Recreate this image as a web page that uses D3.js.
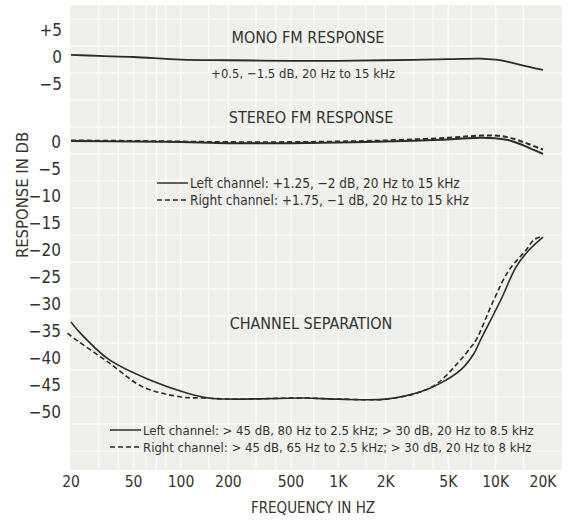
<!DOCTYPE html>
<html>
<head>
<meta charset="utf-8">
<script src="https://cdn.jsdelivr.net/npm/d3@7"></script>
<style>
  body { margin: 0; background: #fff; }
  svg text { font-family: "Liberation Sans Narrow", "DejaVu Sans Condensed", "Roboto Condensed", sans-serif; fill: #33342c; }
</style>
</head>
<body>
<script>
// ticks
const freqTicks = [20, 50, 100, 200, 500, 1000, 2000, 5000, 10000, 20000];
const freqLabels = ["20", "50", "100", "200", "500", "1K", "2K", "5K", "10K", "20K"];
const monoTicks = [5, 0, -5];
const monoLabels = ["+5", "0", "\u22125"];
const stereoTicks = [0, -5, -10, -15, -20, -25, -30, -35, -40, -45, -50];

// mono FM response
const monoFreq = [20, 30, 50, 100, 200, 500, 1000, 2000, 5000, 8000, 10000, 12000, 15000, 20000];
const monoDb   = [0.4, 0.2, 0, -0.5, -0.6, -0.7, -0.7, -0.6, -0.4, -0.3, -0.5, -0.9, -1.6, -2.4];

// stereo FM response
const stereoFreq = [20, 50, 100, 200, 500, 1000, 2000, 5000, 8000, 10000, 12000, 15000, 20000];
const stereoLeft  = [0, -0.1, -0.2, -0.4, -0.4, -0.3, -0.1, 0.3, 0.6, 0.5, 0.2, -0.8, -2.4];
const stereoRight = [0.1, 0, -0.1, -0.2, -0.2, -0.1, 0.1, 0.6, 1.0, 1.0, 0.7, -0.2, -1.6];

// channel separation
const sepLeftFreq = [20, 22, 35, 64, 110, 150, 215, 600, 1000, 2000, 3300, 4500, 6000, 7300, 8000, 10800, 13500, 16300, 20000];
const sepLeftDb   = [-33.5, -35, -40.5, -44.3, -46.7, -47.6, -47.8, -47.6, -47.8, -47.8, -46.5, -44.8, -42.4, -39.3, -36.9, -29.4, -23.3, -20.2, -17.8];
const sepRightFreq = [19, 22, 35, 57, 100, 140, 215, 600, 1000, 2000, 3300, 4300, 5750, 7000, 7500, 9750, 12100, 15600, 17500, 20000];
const sepRightDb   = [-35.6, -37, -41.1, -45.5, -47.4, -47.6, -47.8, -47.6, -47.8, -47.8, -46.5, -44.8, -41.1, -38.1, -36.9, -29.4, -24, -20.2, -18.3, -17.6];

const w = 568, h = 522;

const x = d3.scaleLog().domain([20, 20000]).range([71, 543]);
const yMono = d3.scaleLinear().domain([0, -5]).range([57, 84]);
const y = d3.scaleLinear().domain([0, -50]).range([141, 411]);

const svg = d3.select("body").append("svg")
  .attr("width", w)
  .attr("height", h);

// gray chart paper
svg.append("rect")
  .attr("x", 70).attr("y", 5)
  .attr("width", 492).attr("height", 465)
  .attr("fill", "#efefec");

const gridX = [30, 40, 50, 60, 70, 80, 100, 150, 200, 300, 400, 500, 700, 1000, 1500, 2000, 3000, 4000, 5000, 7000, 10000, 15000];
svg.append("g").selectAll("line")
  .data(gridX)
  .enter()
  .append("line")
  .attr("x1", d => x(d)).attr("x2", d => x(d))
  .attr("y1", 5).attr("y2", 470)
  .attr("stroke", "#fafaf8")
  .attr("stroke-width", 1.5);

svg.append("g").selectAll("line")
  .data(d3.range(-60, 30, 5))
  .enter()
  .append("line")
  .attr("x1", 70).attr("x2", 562)
  .attr("y1", d => y(d) + 13).attr("y2", d => y(d) + 13)
  .attr("stroke", "#fafaf8")
  .attr("stroke-width", 1.5)
  .attr("display", d => (y(d) + 13 > 8 && y(d) + 13 < 468) ? null : "none");

// y tick labels
svg.append("g").selectAll("text")
  .data(monoTicks)
  .enter()
  .append("text")
  .attr("x", 62)
  .attr("y", d => yMono(d) + 6)
  .attr("text-anchor", "end")
  .attr("font-size", 17)
  .text((d, i) => monoLabels[i]);

svg.append("g").selectAll("text")
  .data(stereoTicks)
  .enter()
  .append("text")
  .attr("x", 61)
  .attr("y", d => y(d) + 7)
  .attr("text-anchor", "end")
  .attr("font-size", 17)
  .text(d => d === 0 ? "0" : "\u2212" + Math.abs(d));

// x tick labels
svg.append("g").selectAll("text")
  .data(freqTicks)
  .enter()
  .append("text")
  .attr("x", d => x(d))
  .attr("y", 487)
  .attr("text-anchor", "middle")
  .attr("font-size", 15.5)
  .text((d, i) => freqLabels[i]);

svg.append("text")
  .attr("x", 313).attr("y", 513)
  .attr("text-anchor", "middle")
  .attr("font-size", 15)
  .text("FREQUENCY IN HZ");

svg.append("text")
  .attr("transform", "translate(28,195) rotate(-90)")
  .attr("text-anchor", "middle")
  .attr("font-size", 16.5)
  .text("RESPONSE IN DB");

// curves
const line = (sx, sy) => d3.line()
  .x(d => sx(d[0]))
  .y(d => sy(d[1]))
  .curve(d3.curveCatmullRom.alpha(0.5));

function zip(a, b) { return a.map((v, i) => [v, b[i]]); }

function drawCurve(data, sy, dashed, width) {
  svg.append("path")
    .datum(data)
    .attr("fill", "none")
    .attr("stroke", "#2a2c26")
    .attr("stroke-width", width)
    .attr("stroke-dasharray", dashed ? "5,3" : null)
    .attr("d", line(x, sy));
}

drawCurve(zip(monoFreq, monoDb), yMono, false, 1.8);
drawCurve(zip(stereoFreq, stereoLeft), y, false, 2);
drawCurve(zip(stereoFreq, stereoRight), y, true, 2);
drawCurve(zip(sepLeftFreq, sepLeftDb), y, false, 1.6);
drawCurve(zip(sepRightFreq, sepRightDb), y, true, 1.6);

// titles and notes
function label(tx, ty, size, str, anchor) {
  svg.append("text")
    .attr("x", tx).attr("y", ty)
    .attr("text-anchor", anchor || "middle")
    .attr("font-size", size)
    .text(str);
}

label(308, 43, 16, "MONO FM RESPONSE");
label(303, 78, 13, "+0.5, \u22121.5 dB, 20 Hz to 15 kHz");
label(311, 123, 16, "STEREO FM RESPONSE");
label(311, 329, 16, "CHANNEL SEPARATION");

function legendRow(x0, tx, ty, dashed, size, str) {
  svg.append("line")
    .attr("x1", x0).attr("x2", tx - 2)
    .attr("y1", ty - 5).attr("y2", ty - 5)
    .attr("stroke", "#2a2c26")
    .attr("stroke-width", 1.5)
    .attr("stroke-dasharray", dashed ? "5,3" : null);
  label(tx, ty, size, str, "start");
}

legendRow(157, 190, 188, false, 13.5, "Left channel: +1.25, \u22122 dB, 20 Hz to 15 kHz");
legendRow(157, 190, 205, true, 13.5, "Right channel: +1.75, \u22121 dB, 20 Hz to 15 kHz");
legendRow(110, 143, 435, false, 13, "Left channel: > 45 dB, 80 Hz to 2.5 kHz; > 30 dB, 20 Hz to 8.5 kHz");
legendRow(110, 143, 452, true, 13, "Right channel: > 45 dB, 65 Hz to 2.5 kHz; > 30 dB, 20 Hz to 8 kHz");
</script>
</body>
</html>
